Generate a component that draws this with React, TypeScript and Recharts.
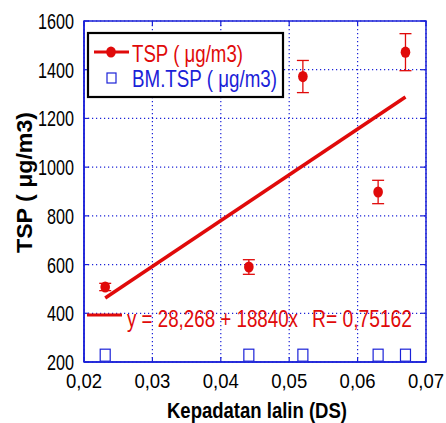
import React from 'react';
import { ComposedChart, Scatter, XAxis, YAxis, CartesianGrid, ErrorBar, ReferenceArea } from 'recharts';

const dsValues = [0.0231, 0.0441, 0.052, 0.063, 0.067];
const tspValues = [508, 590, 1372, 898, 1472];
const tspErrors = [15, 30, 66, 48, 76];
const bmTspValues = [228, 228, 228, 228, 228];
const fitDs = [0.0231, 0.067];
const fitTsp = [463, 1288];
const xTicks = [0.02, 0.03, 0.04, 0.05, 0.06, 0.07];
const yTicks = [200, 400, 600, 800, 1000, 1200, 1400, 1600];

const RED = '#e00a0a';
const BLUE = '#1b22d8';
const FONT = "'Liberation Sans', Arial, sans-serif";

// plot frame in page pixels
const L = 84, R = 426, T = 21, B = 362;

const tspData = dsValues.map((ds, i) => ({ ds, tsp: tspValues[i], err: tspErrors[i] }));
const bmData = dsValues.map((ds, i) => ({ ds, bm: bmTspValues[i] }));
const fitData = fitDs.map((ds, i) => ({ ds, fit: fitTsp[i] }));

const fmtX = (v: number) => v.toFixed(2).replace('.', ',');

const Dot = (p: any) => <ellipse cx={p.cx} cy={p.cy} rx={4.8} ry={5.6} fill={RED} />;
const Square = (p: any) => (
  <rect x={p.cx - 5} y={p.cy - 6} width={10} height={12} fill="#fff" stroke={BLUE} strokeWidth={1.2} />
);

const XTick = (p: any) => {
  const label = fmtX(p.payload.value);
  const x = p.x;
  return (
    <g>
      <line x1={x} x2={x} y1={T} y2={T + 5} stroke={BLUE} strokeWidth={1.2} />
      <line x1={x} x2={x} y1={B} y2={B - 5} stroke={BLUE} strokeWidth={1.2} />
      <text x={x} y={388} textAnchor="middle" fontSize={21} fontFamily={FONT} fill="#000" textLength={36} lengthAdjust="spacingAndGlyphs">{label}</text>
    </g>
  );
};

const YTick = (p: any) => {
  const label = String(p.payload.value);
  const y = p.y;
  return (
    <g>
      <line x1={L} x2={L + 5} y1={y} y2={y} stroke={BLUE} strokeWidth={1.2} />
      <line x1={R} x2={R - 5} y1={y} y2={y} stroke={BLUE} strokeWidth={1.2} />
      <text x={74} y={y + 8} textAnchor="end" fontSize={22} fontFamily={FONT} fill="#000" textLength={label.length * 9} lengthAdjust="spacingAndGlyphs">{label}</text>
    </g>
  );
};

export default function App() {
  return (
    <div style={{ position: 'absolute', left: 0, top: 0, width: 446, height: 423, background: '#fff' }}>
      <ComposedChart width={446} height={423} margin={{ top: T, right: 446 - R, bottom: 423 - B - 30, left: L - 60 }}>
        <CartesianGrid stroke={BLUE} strokeDasharray="1.2 2.8" strokeWidth={1.2} />
        <XAxis
          dataKey="ds"
          type="number"
          domain={[0.02, 0.07]}
          ticks={xTicks}
          tickLine={false}
          axisLine={{ stroke: BLUE, strokeWidth: 1.5 }}
          height={30}
          tick={<XTick />}
        />
        <YAxis
          type="number"
          domain={[200, 1600]}
          ticks={yTicks}
          tickLine={false}
          axisLine={{ stroke: BLUE, strokeWidth: 1.5 }}
          width={60}
          tick={<YTick />}
        />
        <ReferenceArea x1={0.02} x2={0.07} y1={200} y2={1600} fill="none" stroke={BLUE} strokeWidth={1.5} ifOverflow="visible" />
        <Scatter data={fitData} dataKey="fit" line={{ stroke: RED, strokeWidth: 3.5 }} shape={() => <g />} isAnimationActive={false} />
        <Scatter data={tspData} dataKey="tsp" shape={Dot} isAnimationActive={false}>
          <ErrorBar dataKey="err" direction="y" width={6} stroke={RED} strokeWidth={1.3} isAnimationActive={false} />
        </Scatter>
        <Scatter data={bmData} dataKey="bm" shape={Square} isAnimationActive={false} />
      </ComposedChart>
      <svg width={446} height={423} style={{ position: 'absolute', left: 0, top: 0, pointerEvents: 'none' }}>
        <text x={0} y={0} transform="translate(32 182.5) rotate(-90)" textAnchor="middle" fontSize={22} fontWeight="bold" fontFamily={FONT} fill="#000" textLength={141} lengthAdjust="spacingAndGlyphs">TSP ( μg/m3)</text>
        <text x={257} y={418} textAnchor="middle" fontSize={22} fontWeight="bold" fontFamily={FONT} fill="#000" textLength={180} lengthAdjust="spacingAndGlyphs">Kepadatan lalin (DS)</text>
        <line x1={87} x2={122} y1={315} y2={315} stroke={RED} strokeWidth={3} />
        <text x={127} y={327} fill={RED} fontSize={23} fontFamily={FONT} textLength={171} lengthAdjust="spacingAndGlyphs">y = 28,268 + 18840x</text>
        <text x={312} y={327} fill={RED} fontSize={23} fontFamily={FONT} textLength={100} lengthAdjust="spacingAndGlyphs">R= 0,75162</text>
        <rect x={88} y={33} width={195} height={64} fill="#fff" stroke="#000" strokeWidth={2.2} />
        <line x1={94} x2={129} y1={52} y2={52} stroke={RED} strokeWidth={3} />
        <ellipse cx={111} cy={52} rx={4.8} ry={5.6} fill={RED} />
        <text x={132} y={62} fill={RED} fontSize={24} fontFamily={FONT} textLength={111} lengthAdjust="spacingAndGlyphs">TSP ( μg/m3)</text>
        <rect x={107} y={73} width={9} height={10} fill="none" stroke={BLUE} strokeWidth={1.2} />
        <text x={132} y={87} fill={BLUE} fontSize={24} fontFamily={FONT} textLength={145} lengthAdjust="spacingAndGlyphs">BM.TSP ( μg/m3)</text>
      </svg>
    </div>
  );
}
